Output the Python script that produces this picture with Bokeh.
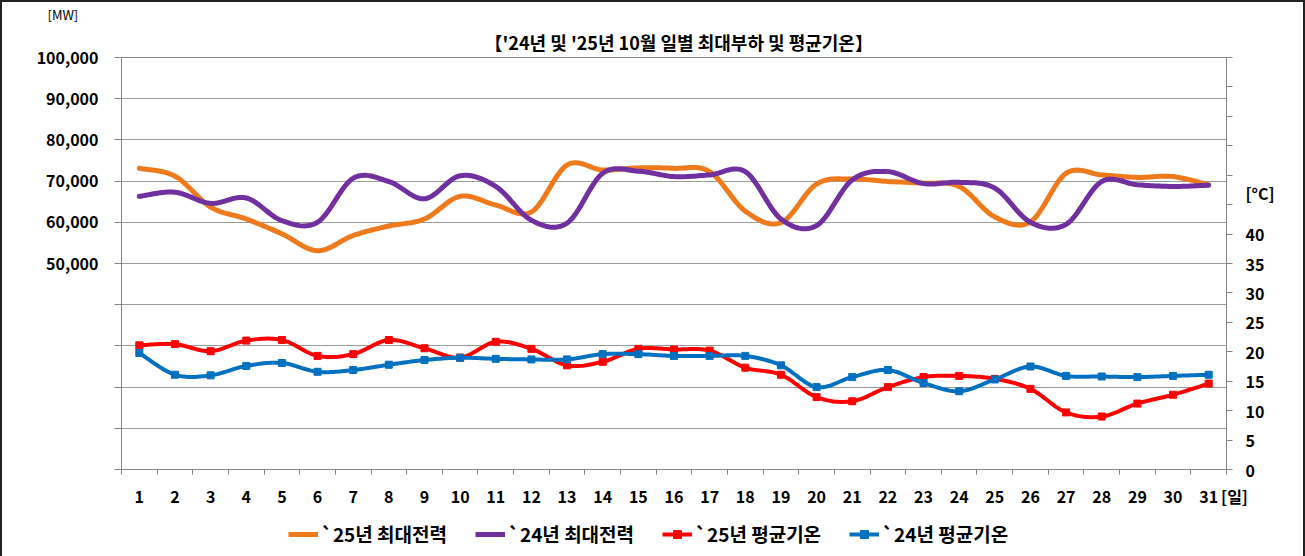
from bokeh.plotting import figure
from bokeh.layouts import column
from bokeh.models import Range1d, LinearAxis, FixedTicker, Legend, LegendItem, Title
from bokeh.embed import file_html
from bokeh.resources import INLINE

# ---------------- data ----------------
days = list(range(1, 32))
day_labels = [str(d) for d in days]

peak_2025 = [73100, 71200, 63700, 60800, 57200, 53100, 56800, 59100, 60800, 66300,
             64200, 62500, 73900, 72700, 73200, 73100, 72300, 62700, 59900, 69300,
             70500, 69900, 69500, 68700, 61300, 60100, 71900, 71500, 70900, 71100,
             69100]
peak_2024 = [66300, 67300, 64600, 65900, 60400, 60000, 70700, 69900, 65700, 71300,
             68700, 60500, 59800, 71900, 72400, 71100, 71500, 72300, 60800, 59200,
             70300, 72300, 69400, 69700, 68300, 60000, 59500, 69900, 69100, 68700,
             69000]
temp_2025 = [21.1, 21.3, 20.1, 21.9, 22.0, 19.3, 19.6, 22.0, 20.6, 19.0,
             21.7, 20.5, 17.7, 18.3, 20.5, 20.4, 20.2, 17.3, 16.1, 12.3,
             11.6, 14.0, 15.7, 15.9, 15.4, 13.7, 9.7, 9.0, 11.2, 12.7,
             14.6]
temp_2024 = [19.8, 16.1, 16.0, 17.6, 18.1, 16.6, 16.9, 17.8, 18.6, 19.0,
             18.8, 18.7, 18.7, 19.6, 19.6, 19.3, 19.3, 19.3, 17.7, 14.0,
             15.7, 16.9, 14.7, 13.3, 15.3, 17.5, 15.9, 15.8, 15.7, 15.9,
             16.1]

series_names = ["`25년 최대전력", "`24년 최대전력", "`25년 평균기온", "`24년 평균기온"]
title_text = "【'24년 및 '25년 10월 일별 최대부하 및 평균기온】"
unit_mw, unit_c, unit_day = "[MW]", "[°C]", "[일]"

mw_ticks = list(range(0, 100001, 10000))
mw_shown = [50000, 60000, 70000, 80000, 90000, 100000]
c_ticks = list(range(0, 71, 5))
c_shown = list(range(0, 41, 5))
C_UNIT_POS, DAY_UNIT_POS = 47, 31.5   # where the unit texts sit on their axes

FONT = "Noto Sans CJK KR"
ORANGE, PURPLE, RED, BLUE = "#EE7A1C", "#7030A0", "#FF0000", "#0070C0"
AX = "#868686"


def smooth(xs, ys, n=16):
    """Excel-style smoothed line (Catmull-Rom / Bezier) through the data points."""
    px, py = [], []
    m = len(xs)
    for i in range(m - 1):
        x0, y0 = xs[max(i - 1, 0)], ys[max(i - 1, 0)]
        x1, y1 = xs[i], ys[i]
        x2, y2 = xs[i + 1], ys[i + 1]
        x3, y3 = xs[min(i + 2, m - 1)], ys[min(i + 2, m - 1)]
        c1x, c1y = x1 + (x2 - x0) / 6.0, y1 + (y2 - y0) / 6.0
        c2x, c2y = x2 - (x3 - x1) / 6.0, y2 - (y3 - y1) / 6.0
        for k in range(n + (1 if i == m - 2 else 0)):
            t = k / n
            a, b, c, d = (1 - t) ** 3, 3 * t * (1 - t) ** 2, 3 * t * t * (1 - t), t ** 3
            px.append(a * x1 + b * c1x + c * c2x + d * x2)
            py.append(a * y1 + b * c1y + c * c2y + d * y2)
    return px, py


# ---------------- main figure ----------------
p = figure(width=1301, height=508, output_backend="svg", toolbar_location=None,
           title=None,
           x_range=Range1d(0.5, 31.5), y_range=Range1d(0, 100000),
           min_border_left=119, min_border_right=77, min_border_top=53,
           min_border_bottom=34, outline_line_color=AX, outline_line_width=1,
           background_fill_color="white", border_fill_color="white")
p.extra_y_ranges = {"temp": Range1d(0, 70)}

# titles: the main title next to the chart, the [MW] unit above it
p.add_layout(Title(text=title_text, align="left", offset=363, standoff=6,
                   text_font=FONT, text_font_size="18px", text_font_style="bold",
                   text_color="black"), "above")
p.add_layout(Title(text=unit_mw, align="left", offset=-74, standoff=0,
                   text_font=FONT, text_font_size="13px", text_font_style="normal",
                   text_color="black"), "above")

# x axis (major ticks carry the labels, minor ticks draw the marks)
x_over = {d: lab for d, lab in zip(days, day_labels)}
x_over[DAY_UNIT_POS] = "\u3000" + unit_day
xa = p.xaxis[0]
xa.ticker = FixedTicker(ticks=days + [DAY_UNIT_POS],
                        minor_ticks=[d - 0.5 for d in range(1, 33)])
xa.major_label_overrides = x_over
xa.axis_line_color = None
xa.major_tick_line_color = None
xa.major_tick_out = 0
xa.major_tick_in = 0
xa.minor_tick_line_color = AX
xa.minor_tick_in = 0
xa.minor_tick_out = 5
xa.major_label_standoff = 9
xa.major_label_text_font = FONT
xa.major_label_text_font_style = "bold"
xa.major_label_text_font_size = "16px"
xa.major_label_text_color = "black"

# left axis
y_over = {t: f"{t:,}" for t in mw_shown}
ya = p.yaxis[0]
ya.ticker = FixedTicker(ticks=mw_shown, minor_ticks=mw_ticks)
ya.major_label_overrides = y_over
ya.axis_line_color = None
ya.major_tick_line_color = None
ya.major_tick_out = 0
ya.major_tick_in = 0
ya.minor_tick_line_color = AX
ya.minor_tick_in = 0
ya.minor_tick_out = 7
ya.major_label_standoff = 16
ya.major_label_text_font = FONT
ya.major_label_text_font_style = "bold"
ya.major_label_text_font_size = "16px"
ya.major_label_text_color = "black"

# right axis
c_over = {t: str(t) for t in c_shown}
c_over[C_UNIT_POS] = unit_c
ra = LinearAxis(y_range_name="temp",
                ticker=FixedTicker(ticks=c_shown + [C_UNIT_POS], minor_ticks=c_ticks))
ra.major_label_overrides = c_over
ra.axis_line_color = None
ra.major_tick_line_color = None
ra.major_tick_out = 0
ra.major_tick_in = 0
ra.minor_tick_line_color = AX
ra.minor_tick_in = 0
ra.minor_tick_out = 6
ra.major_label_standoff = 13
ra.major_label_text_font = FONT
ra.major_label_text_font_style = "bold"
ra.major_label_text_font_size = "16px"
ra.major_label_text_color = "black"
p.add_layout(ra, "right")

p.xgrid.grid_line_color = None
p.ygrid.ticker = FixedTicker(ticks=mw_ticks)
p.ygrid.grid_line_color = "#9c9c9c"
p.ygrid.grid_line_width = 1

# ---------------- series ----------------
sx, sy = smooth(days, peak_2025)
p.line(sx, sy, line_color=ORANGE, line_width=5, line_join="round", line_cap="round")
sx, sy = smooth(days, peak_2024)
p.line(sx, sy, line_color=PURPLE, line_width=5, line_join="round", line_cap="round")

sx, sy = smooth(days, temp_2025)
p.line(sx, sy, line_color=RED, line_width=4, line_join="round", y_range_name="temp")
p.scatter(days, temp_2025, marker="square", size=7, fill_color=RED,
          line_color=RED, y_range_name="temp")
sx, sy = smooth(days, temp_2024)
p.line(sx, sy, line_color=BLUE, line_width=4, line_join="round", y_range_name="temp")
p.scatter(days, temp_2024, marker="square", size=7, fill_color=BLUE,
          line_color=BLUE, y_range_name="temp")

# ---------------- legend strip (own small figure below the chart) ----------------
# the key renderers carry the same series but lie outside this strip's visible range,
# so only their legend swatches show
lp = figure(width=1301, height=46, output_backend="svg", toolbar_location=None,
            x_range=Range1d(-3, -2), y_range=Range1d(-3, -2),
            x_axis_location=None, y_axis_location=None, min_border=0,
            outline_line_color=None, background_fill_color="white",
            border_fill_color="white")
lp.grid.visible = False
k_o = lp.line(days, peak_2025, line_color=ORANGE, line_width=5)
k_p = lp.line(days, peak_2024, line_color=PURPLE, line_width=5)
k_r = lp.line(days, temp_2025, line_color=RED, line_width=4)
k_rm = lp.scatter(days, temp_2025, marker="square", size=7, fill_color=RED, line_color=RED)
k_b = lp.line(days, temp_2024, line_color=BLUE, line_width=4)
k_bm = lp.scatter(days, temp_2024, marker="square", size=7, fill_color=BLUE, line_color=BLUE)

legend = Legend(items=[LegendItem(label=series_names[0], renderers=[k_o]),
                       LegendItem(label=series_names[1], renderers=[k_p]),
                       LegendItem(label=series_names[2], renderers=[k_r, k_rm]),
                       LegendItem(label=series_names[3], renderers=[k_b, k_bm])],
                orientation="horizontal", location=(167, 9),
                glyph_width=30, glyph_height=20, label_standoff=3, spacing=28,
                padding=0, margin=0, border_line_color=None,
                background_fill_alpha=0,
                label_text_font=FONT, label_text_font_style="bold",
                label_text_font_size="19px", label_text_color="black")
lp.add_layout(legend, "center")

page = column(p, lp, spacing=0,
              styles={"border-top": "2px solid #222222", "border-left": "2px solid #222222",
                      "border-right": "2px solid #222222"})

open("out.html", "w").write(file_html(page, INLINE))
